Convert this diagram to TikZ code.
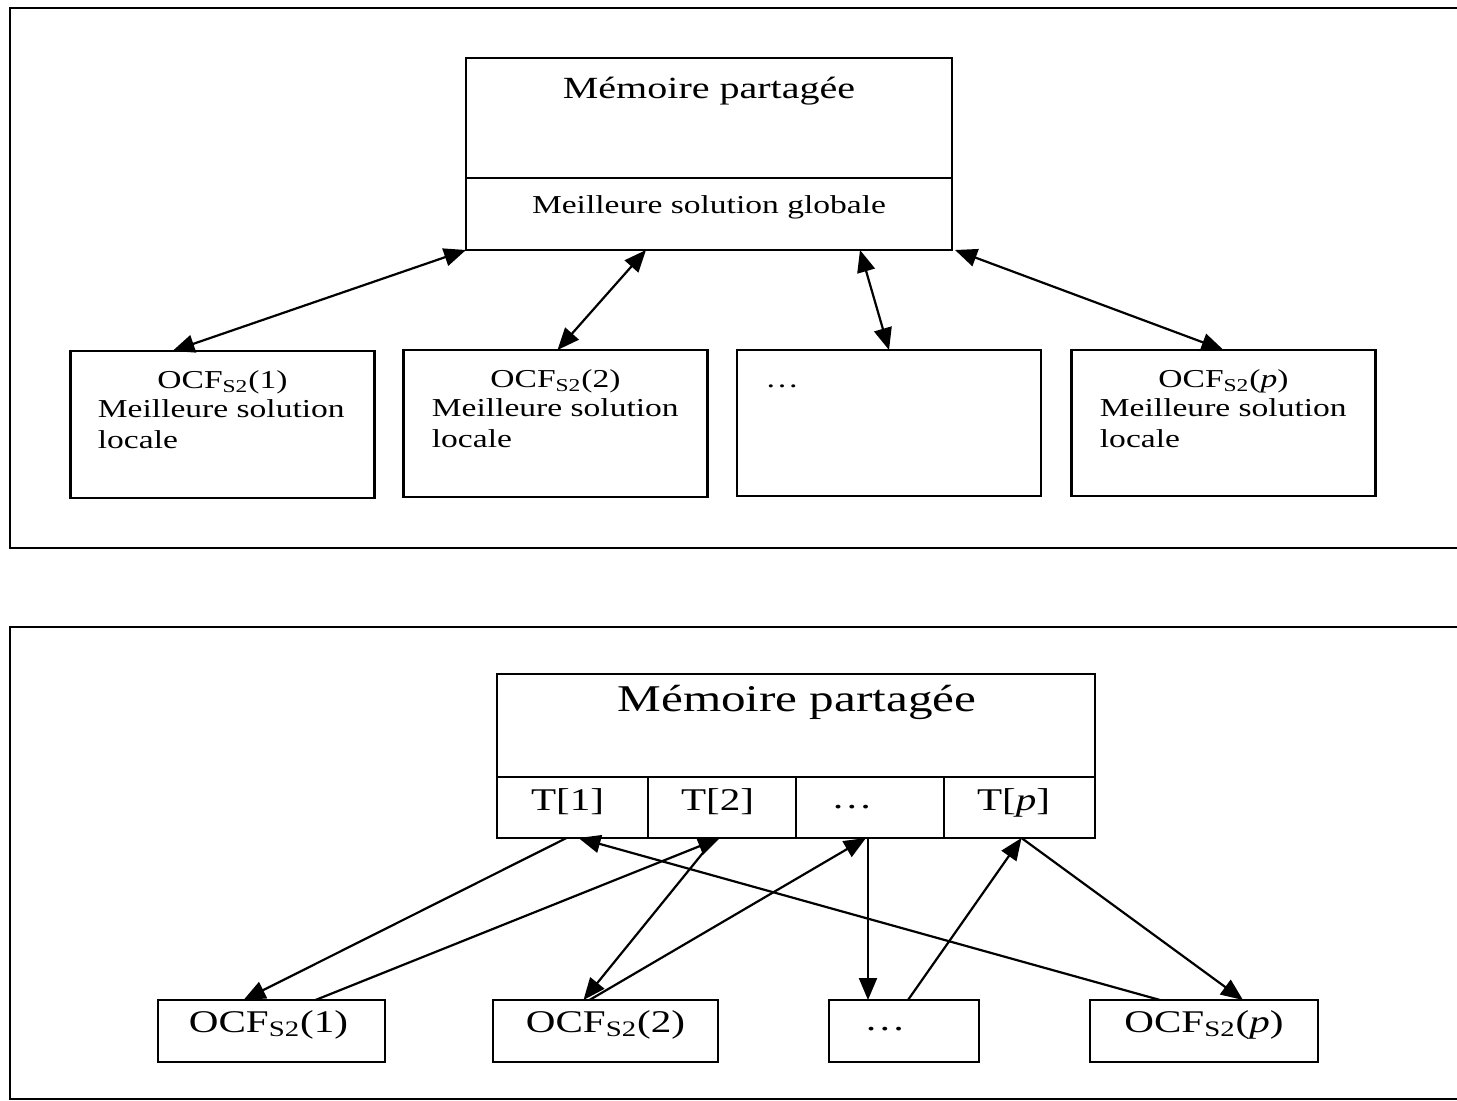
\documentclass[tikz,border=0pt]{standalone}
\usepackage{fontspec}
\setmainfont[FakeStretch=1.3]{Liberation Serif}
\usetikzlibrary{arrows.meta,calc}
\begin{document}
\begin{tikzpicture}[x=0.5pt,y=-0.5pt,
  box/.style 2 args={draw,line width=1.1pt,inner sep=0pt,outer sep=0pt,minimum width=#1,minimum height=#2},
  frameline/.style={line width=1.2pt},
  ttlA/.style={font=\fontsize{15.4}{18}\selectfont,inner sep=0pt,anchor=base},
  txtA/.style={font=\fontsize{12.9}{15.5}\selectfont,inner sep=0pt,anchor=base},
  ttlB/.style={font=\fontsize{18.9}{22}\selectfont,inner sep=0pt,anchor=base},
  txtB/.style={font=\fontsize{15.8}{19}\selectfont,inner sep=0pt,anchor=base},
  dlink/.style={line width=1.1pt,{Triangle[length=11pt,width=9pt]}-{Triangle[length=11pt,width=9pt]}},
  link/.style={line width=1.1pt,-{Triangle[length=11pt,width=9pt]}}]
\useasboundingbox (0,0) rectangle (1457,1101);

% ---------- top panel ----------
\coordinate (fA1) at (1457,8);
\coordinate (fA2) at (10,8);
\coordinate (fA3) at (10,548);
\coordinate (fA4) at (1457,548);
\draw[frameline] (fA1) -- (fA2) -- (fA3) -- (fA4);

\node[box={243pt}{60pt}] (memA) at (709,118) {};
\node[box={243pt}{36pt}] (solA) at (709,214) {};
\node[ttlA] (memAt) at (709,99) {Mémoire partagée};
\node[txtA] (solAt) at (709,214) {Meilleure solution globale};

\node[box={152pt}{73.5pt}] (b1) at (222.5,424.5) {};
\node[box={152pt}{73.5pt}] (b2) at (555.5,423.5) {};
\node[box={152pt}{73pt}] (b3) at (889,423) {};
\node[box={152pt}{73pt}] (b4) at (1223.5,423) {};

\node[txtA] (b1a) at ($(b1.north)+(0,38)$) {OCF\textsubscript{S2}(1)};
\node[txtA,anchor=base west] (b1b) at ($(b1.north west)+(27,67)$) {Meilleure solution};
\node[txtA,anchor=base west] (b1c) at ($(b1.north west)+(27,98)$) {locale};

\node[txtA] (b2a) at ($(b2.north)+(0,38)$) {OCF\textsubscript{S2}(2)};
\node[txtA,anchor=base west] (b2b) at ($(b2.north west)+(28,67)$) {Meilleure solution};
\node[txtA,anchor=base west] (b2c) at ($(b2.north west)+(28,98)$) {locale};

\node[txtA,anchor=base west] (b3a) at ($(b3.north west)+(28,38)$) {\ldots};

\node[txtA] (b4a) at ($(b4.north)+(0,38)$) {OCF\textsubscript{S2}(\textit{p})};
\node[txtA,anchor=base west] (b4b) at ($(b4.north west)+(28,67)$) {Meilleure solution};
\node[txtA,anchor=base west] (b4c) at ($(b4.north west)+(28,98)$) {locale};

\draw[dlink] (solA.south west) -- ([xshift=-25pt]b1.north);
\draw[dlink] ([xshift=-31.5pt]solA.south) -- ([xshift=1pt]b2.north);
\draw[dlink] ([xshift=75.5pt]solA.south) -- (b3.north);
\draw[dlink] ([xshift=1.5pt]solA.south east) -- (b4.north);

% ---------- bottom panel ----------
\coordinate (fB1) at (1457,627);
\coordinate (fB2) at (10,627);
\coordinate (fB3) at (10,1099);
\coordinate (fB4) at (1457,1099);
\draw[frameline] (fB1) -- (fB2) -- (fB3) -- (fB4);

\node[box={299pt}{51.5pt}] (memB) at (796,725.5) {};
\node[ttlB] (memBt) at (797,711) {Mémoire partagée};

\node[box={75.5pt}{30.5pt}] (c1) at (572.5,807.5) {};
\node[box={74pt}{30.5pt}] (c2) at (722,807.5) {};
\node[box={74pt}{30.5pt}] (c3) at (870,807.5) {};
\node[box={75.5pt}{30.5pt}] (c4) at (1019.5,807.5) {};

\node[txtB] (c1t) at ($(c1.north)+(-5,33)$) {T[1]};
\node[txtB] (c2t) at ($(c2.north)+(-4.5,33)$) {T[2]};
\node[txtB] (c3t) at ($(c3.north)+(-18,31)$) {\ldots};
\node[txtB] (c4t) at ($(c4.north)+(-6,33)$) {T[\textit{p}]};

\node[box={113.5pt}{31pt}] (o1) at (271.5,1031) {};
\node[box={112.5pt}{31pt}] (o2) at (605.5,1031) {};
\node[box={75pt}{31pt}] (o3) at (904,1031) {};
\node[box={114pt}{31pt}] (o4) at (1204,1031) {};

\node[txtB] (o1t) at ($(o1.north)+(-3,32)$) {OCF\textsubscript{S2}(1)};
\node[txtB] (o2t) at ($(o2.north)+(0,32)$) {OCF\textsubscript{S2}(2)};
\node[txtB] (o3t) at ($(o3.north)+(-19,30)$) {\ldots};
\node[txtB] (o4t) at ($(o4.north)+(0,32)$) {OCF\textsubscript{S2}(\textit{p})};

\draw[link] ([xshift=-3pt]c1.south) -- ([xshift=-14pt]o1.north);
\draw[link] ([xshift=22pt]o1.north) -- ([xshift=-1pt]c2.south);
\draw[link] ([xshift=-3.5pt]c2.south) -- ([xshift=-11pt]o2.north);
\draw[link] ([xshift=-8pt]o2.north) -- ([xshift=-2pt]c3.south);
\draw[link] ([xshift=-1pt]c3.south) -- ([xshift=-18pt]o3.north);
\draw[link] ([xshift=2pt]o3.north) -- ([xshift=1pt]c4.south);
\draw[link] ([xshift=1pt]c4.south) -- ([xshift=19.5pt]o4.north);
\draw[link] ([xshift=-22pt]o4.north) -- ([xshift=3pt]c1.south);
\end{tikzpicture}
\end{document}
